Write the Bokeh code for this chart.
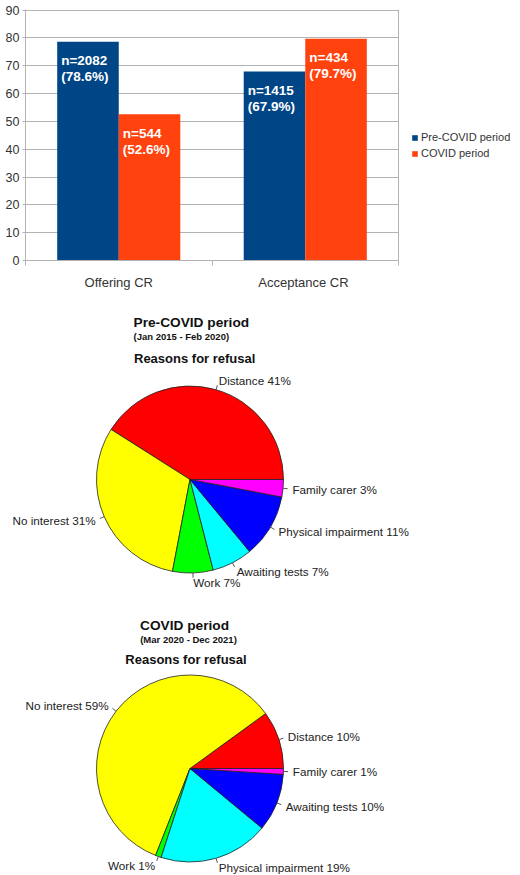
import numpy as np
from bokeh.plotting import figure
from bokeh.models import Range1d, Legend, LegendItem, ColumnDataSource, FixedTicker
from bokeh.transform import dodge
from bokeh.core.properties import value
from bokeh.embed import file_html
from bokeh.resources import INLINE

# ---------------- data ----------------
categories = ["Offering CR", "Acceptance  CR"]
series_names = ["Pre-COVID period", "COVID period"]
pre_pct = [78.6, 67.9]
covid_pct = [52.6, 79.7]
pre_n = [2082, 1415]
covid_n = [544, 434]
y_ticks = [0, 10, 20, 30, 40, 50, 60, 70, 80, 90]

pie1_title = "Pre-COVID period"
pie1_sub = "(Jan 2015 - Feb 2020)"
pie1_labels = ["Distance", "No interest", "Work", "Awaiting tests", "Physical impairment", "Family carer"]
pie1_values = [41, 31, 7, 7, 11, 3]

pie2_title = "COVID period"
pie2_sub = "(Mar 2020 - Dec 2021)"
pie2_labels = ["Distance", "No interest", "Work", "Physical impairment", "Awaiting tests", "Family carer"]
pie2_values = [10, 59, 1, 19, 10, 1]

pie_heading = "Reasons for refusal"
pie_colors = ["#ff0000", "#ffff00", "#00ff00", "#00ffff", "#0000ff", "#ff00ff"]
bar_colors = ["#004586", "#ff420e"]

FONT = "Liberation Sans"
GRID = "#b3b3b3"

# ---------------- bar chart ----------------
ncat = len(categories)
cat_pos = [i + 0.5 for i in range(ncat)]

p = figure(x_range=Range1d(0, 2.654), y_range=Range1d(0, 90.2),
           width=520, height=292, output_backend="svg", toolbar_location=None,
           min_border_left=25, min_border_top=9, min_border_bottom=25, min_border_right=0)

src = ColumnDataSource(dict(
    xc=cat_pos, pre=pre_pct, covid=covid_pct,
    pre_l1=[f"n={n}" for n in pre_n], pre_l2=[f"({v}%)" for v in pre_pct],
    cov_l1=[f"n={n}" for n in covid_n], cov_l2=[f"({v}%)" for v in covid_pct],
))

r1 = p.vbar(x=dodge("xc", -0.165), top="pre", width=0.33, source=src,
            fill_color=bar_colors[0], line_color=None)
r2 = p.vbar(x=dodge("xc", 0.165), top="covid", width=0.33, source=src,
            fill_color=bar_colors[1], line_color=None)

for xoff, ycol, l1, l2 in [(-0.33, "pre", "pre_l1", "pre_l2"), (0.0, "covid", "cov_l1", "cov_l2")]:
    for txt, yo in [(l1, 19), (l2, 35)]:
        p.text(x=dodge("xc", xoff), y=ycol, text=txt, source=src,
               x_offset=4, y_offset=yo, text_align="left", text_baseline="middle",
               text_color="white", text_font=value(FONT), text_font_style="bold",
               text_font_size="13.5px")

legend = Legend(items=[LegendItem(label=series_names[0], renderers=[r1]),
                       LegendItem(label=series_names[1], renderers=[r2])],
                location=(386, 101), glyph_width=7, glyph_height=7, label_standoff=3,
                label_text_font=FONT, label_text_font_size="11px", label_text_color="#333333",
                label_height=12, spacing=4, padding=0, margin=0,
                border_line_color=None, background_fill_alpha=0)
p.add_layout(legend, "center")

# y axis
p.yaxis.ticker = FixedTicker(ticks=y_ticks)
p.yaxis.major_label_text_font = FONT
p.yaxis.major_label_text_font_size = "12.5px"
p.yaxis.major_label_text_color = "#333333"
p.yaxis.axis_line_color = GRID
p.yaxis.major_tick_line_color = GRID
p.yaxis.major_tick_out = 3
p.yaxis.major_tick_in = 0
p.yaxis.minor_tick_line_color = None
p.yaxis.major_label_standoff = 3

# x axis: category labels at centres, tick marks at category boundaries
p.xaxis.ticker = FixedTicker(ticks=cat_pos, minor_ticks=list(range(ncat + 1)))
p.xaxis.major_label_overrides = {x: c for x, c in zip(cat_pos, categories)}
p.xaxis.bounds = (0, ncat)
p.xaxis.major_label_text_font = FONT
p.xaxis.major_label_text_font_size = "13px"
p.xaxis.major_label_text_color = "#333333"
p.xaxis.axis_line_color = GRID
p.xaxis.major_tick_line_color = None
p.xaxis.major_tick_out = 0
p.xaxis.major_tick_in = 0
p.xaxis.minor_tick_line_color = GRID
p.xaxis.minor_tick_out = 5
p.xaxis.minor_tick_in = 0
p.xaxis.major_label_standoff = 9

# grid: horizontal lines limited to the category area, right border line
p.ygrid.grid_line_color = GRID
p.ygrid.ticker = FixedTicker(ticks=y_ticks)
try:
    p.ygrid.cross_bounds = (0, ncat)
except Exception:
    p.ygrid.grid_line_color = None
    p.segment(x0=0, x1=ncat, y0=y_ticks, y1=y_ticks, line_color=GRID, line_width=1)
p.xgrid.ticker = FixedTicker(ticks=[ncat])
p.xgrid.grid_line_color = GRID
p.outline_line_color = None

# ---------------- pies ----------------
q = figure(width=520, height=583, x_range=Range1d(0, 520), y_range=Range1d(-875, -292),
           output_backend="svg", toolbar_location=None, min_border=0,
           x_axis_location=None, y_axis_location=None)
q.grid.visible = False
q.outline_line_color = None


def draw_pie(fig, cx, cy, r, labels, values):
    vals = np.array(values, dtype=float)
    frac = vals / vals.sum()
    ends = np.cumsum(frac) * 2 * np.pi
    starts = ends - frac * 2 * np.pi
    fig.wedge(x=cx, y=cy, radius=r, start_angle=starts, end_angle=ends,
              fill_color=pie_colors, line_color="#222222", line_width=0.8)
    mid = (starts + ends) / 2
    c, s = np.cos(mid), np.sin(mid)
    fig.segment(x0=cx + r * c, y0=cy + r * s, x1=cx + 1.05 * r * c, y1=cy + 1.05 * r * s,
                line_color="#555555", line_width=1)
    texts = [f"{l} {v}%" for l, v in zip(labels, values)]
    lx = cx + 1.1 * r * c
    ly = cy + 1.1 * r * s
    for mask, align in [(c >= 0, "left"), (c < 0, "right")]:
        idx = np.where(mask)[0]
        fig.text(x=lx[idx], y=ly[idx], text=[texts[i] for i in idx],
                 text_align=align, text_baseline="middle", text_color="#222222",
                 text_font=value(FONT), text_font_size="11.7px")


def draw_titles(fig, align, ys, xs, title, sub):
    fig.text(x=[xs[0]], y=[-ys[0]], text=[title], text_align=align, text_baseline="middle",
             text_font=value(FONT), text_font_style="bold", text_font_size="13.7px", text_color="#111111")
    fig.text(x=[xs[1]], y=[-ys[1]], text=[sub], text_align=align, text_baseline="middle",
             text_font=value(FONT), text_font_style="bold", text_font_size="9.5px", text_color="#111111")
    fig.text(x=[xs[2]], y=[-ys[2]], text=[pie_heading], text_align=align, text_baseline="middle",
             text_font=value(FONT), text_font_style="bold", text_font_size="13px", text_color="#111111")


draw_titles(q, "left", (322, 336, 358), (133, 133, 133.5), pie1_title, pie1_sub)
draw_pie(q, 189.5, -479, 93.5, pie1_labels, pie1_values)

draw_titles(q, "center", (625, 639, 659), (184, 188, 185.5), pie2_title, pie2_sub)
draw_pie(q, 189.5, -768, 93.5, pie2_labels, pie2_values)

open("out.html", "w").write(file_html([p, q], INLINE))
